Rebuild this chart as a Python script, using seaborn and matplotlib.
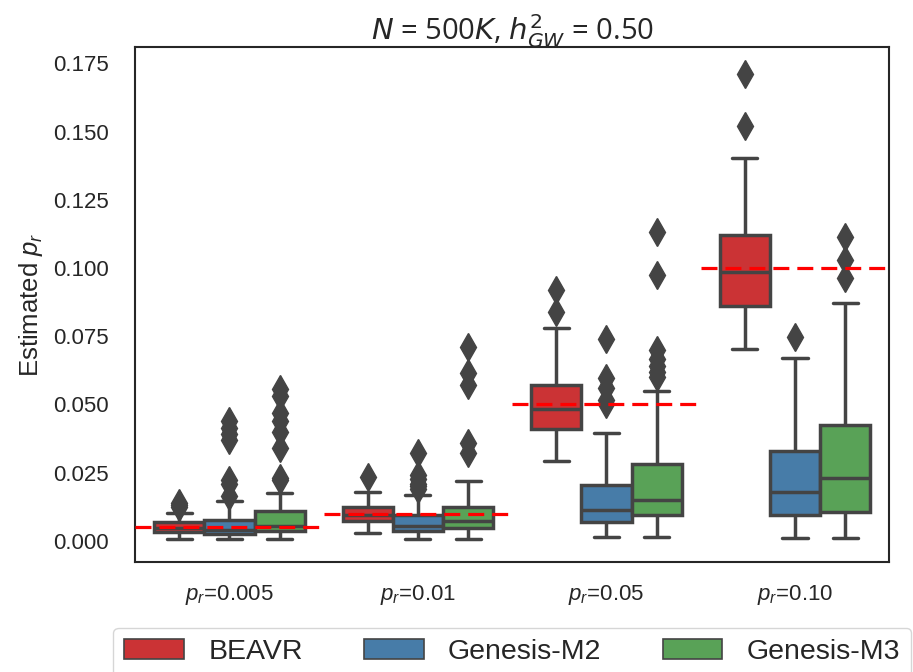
import matplotlib
matplotlib.use('Agg')
import matplotlib.pyplot as plt
import pandas as pd
import seaborn as sns

sns.set_style('white')
plt.rcParams['font.family'] = ['Liberation Sans', 'DejaVu Sans']
plt.rcParams['mathtext.fontset'] = 'custom'
plt.rcParams['mathtext.rm'] = 'Liberation Sans'
plt.rcParams['mathtext.it'] = 'Liberation Sans:italic'

groups = ['$p_r$=0.005', '$p_r$=0.01', '$p_r$=0.05', '$p_r$=0.10']
methods = ['BEAVR', 'Genesis-M2', 'Genesis-M3']
true_pr = [0.005, 0.01, 0.05, 0.10]
yticks = [0.0, 0.025, 0.05, 0.075, 0.10, 0.125, 0.15, 0.175]

# box statistics, one value per group
beavr_lo = [0.0007, 0.0029, 0.0293, 0.0703]
beavr_q1 = [0.0033, 0.0073, 0.0410, 0.0862]
beavr_med = [0.0048, 0.0095, 0.0483, 0.0985]
beavr_q3 = [0.0068, 0.0124, 0.0571, 0.1120]
beavr_hi = [0.0102, 0.0179, 0.0780, 0.1405]
beavr_out = [[0.0124, 0.0130, 0.0137], [0.0234], [0.0838, 0.0919], [0.1520, 0.1710]]

m2_lo = [0.0007, 0.0007, 0.0015, 0.0011]
m2_q1 = [0.0025, 0.0035, 0.0070, 0.0095]
m2_med = [0.0040, 0.0055, 0.0113, 0.0179]
m2_q3 = [0.0075, 0.0095, 0.0205, 0.0328]
m2_hi = [0.0146, 0.0168, 0.0395, 0.0670]
m2_out = [[0.0165, 0.0210, 0.0223, 0.0370, 0.0390, 0.0415, 0.0440],
          [0.0190, 0.0200, 0.0210, 0.0225, 0.0240, 0.0322],
          [0.0500, 0.0516, 0.0560, 0.0597, 0.0739],
          [0.0747]]

m3_lo = [0.0007, 0.0007, 0.0015, 0.0011]
m3_q1 = [0.0035, 0.0048, 0.0095, 0.0106]
m3_med = [0.0055, 0.0072, 0.0150, 0.0231]
m3_q3 = [0.0108, 0.0124, 0.0280, 0.0425]
m3_hi = [0.0176, 0.0220, 0.0550, 0.0871]
m3_out = [[0.0222, 0.0230, 0.0340, 0.0400, 0.0440, 0.0470, 0.0530, 0.0555],
          [0.0322, 0.0359, 0.0571, 0.0615, 0.0710],
          [0.0600, 0.0620, 0.0640, 0.0665, 0.0700, 0.0974, 0.1131],
          [0.0962, 0.1028, 0.1113]]

stats = {
    'BEAVR': (beavr_lo, beavr_q1, beavr_med, beavr_q3, beavr_hi, beavr_out),
    'Genesis-M2': (m2_lo, m2_q1, m2_med, m2_q3, m2_hi, m2_out),
    'Genesis-M3': (m3_lo, m3_q1, m3_med, m3_q3, m3_hi, m3_out),
}

# sample lists whose quartiles/whiskers match the stats above
rows = []
for m in methods:
    lo, q1, med, q3, hi, out = stats[m]
    for i, g in enumerate(groups):
        k = len(out[i]) + 1
        vals = [lo[i]] + [q1[i]] * k + [med[i]] * k + [q3[i]] * k + [hi[i]] + out[i]
        for v in vals:
            rows.append({'Group': g, 'Method': m, 'Estimated': v})
df = pd.DataFrame(rows)

fig, ax = plt.subplots(figsize=(9.13, 6.72), dpi=100)
fig.subplots_adjust(left=0.148, right=0.974, top=0.930, bottom=0.164)

sns.boxplot(data=df, x='Group', y='Estimated', hue='Method', order=groups,
            hue_order=methods, palette='Set1', saturation=0.75,
            linecolor='#444444', linewidth=2.5,
            flierprops=dict(marker='d', markerfacecolor='#444444',
                            markeredgecolor='#444444', markersize=14),
            ax=ax)

for i, v in enumerate(true_pr):
    ax.axhline(v, xmin=i / 4, xmax=(i + 1) / 4, color='#ff0000', lw=2.3,
               ls='--', dashes=(5, 2.5), zorder=5)

ax.set_ylim(-0.0077, 0.181)
ax.set_yticks(yticks)
ax.set_yticklabels(['%.3f' % t for t in yticks])
ax.set_xlabel('')
ax.set_ylabel('Estimated $p_r$', fontsize=18.5, labelpad=6)
ax.tick_params(axis='y', labelsize=16, pad=15.5)
ax.tick_params(axis='x', labelsize=16, pad=11.5)
for s in ax.spines.values():
    s.set_color('#262626')
    s.set_linewidth(1.5)

ax.set_title('$N$ = 500$K$, $h^2_{GW}$ = 0.50', fontsize=21, family='Open Sans',
             math_fontfamily='dejavusans', pad=5)

handles, labels = ax.get_legend_handles_labels()
leg = ax.legend(handles, labels, loc='upper center', bbox_to_anchor=(0.5, -0.128),
                ncol=3, fontsize=20.5, handlelength=2.1, handleheight=0.7,
                handletextpad=0.85, columnspacing=2.15, frameon=True,
                edgecolor='0.8', fancybox=True, borderpad=0.4, borderaxespad=0)
for h in leg.legend_handles:
    h.set_linewidth(1.2)

fig.savefig('out.png', dpi=100)
